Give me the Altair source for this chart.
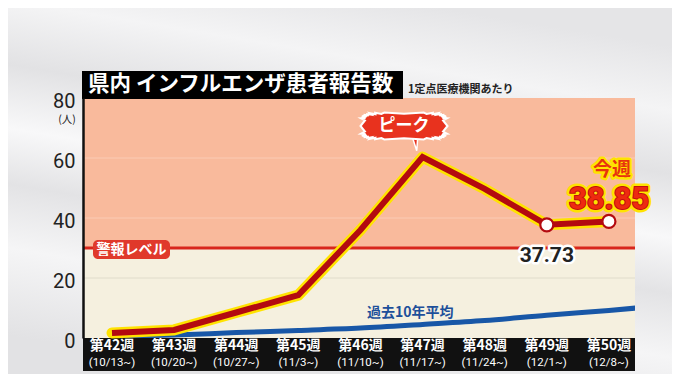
import math
import altair as alt
import pandas as pd

# ---------------- data ----------------
weeks = ["第42週", "第43週", "第44週", "第45週", "第46週", "第47週", "第48週", "第49週", "第50週"]
dates = ["(10/13~)", "(10/20~)", "(10/27~)", "(11/3~)", "(11/10~)", "(11/17~)", "(11/24~)", "(12/1~)", "(12/8~)"]
patients = [1.7, 2.7, 8.5, 14.3, 36.0, 60.3, 49.7, 37.73, 38.85]
avg10 = [0.5, 1.0, 1.8, 2.5, 3.3, 4.5, 5.8, 7.6, 9.2, 11.0]   # last value runs past the edge (clipped)
warning_level = 30
y_ticks = [0, 20, 40, 60, 80]
grid_vals = [20, 40, 60]
title_text = "県内 インフルエンザ患者報告数"
subtitle_text = "1定点医療機関あたり"

# ---------------- layout ----------------
W, H = 552, 240
JP = "Noto Sans CJK JP"
NUM = "Roboto"
xs = alt.Scale(domain=[-0.467, 8.42], nice=False, zero=False)
ys = alt.Scale(domain=[0, 80], nice=False)
YAX = alt.Axis(values=y_ticks, ticks=False, grid=False, domain=True, domainColor="#111111",
               domainWidth=2.5, labelFontSize=20, labelFont=NUM, labelColor="#222222",
               labelPadding=8, labelOffset=3, title=None, zindex=1)

df = pd.DataFrame({"i": list(range(len(weeks))), "week": weeks, "date": dates, "v": patients})
df_avg = pd.DataFrame({"i": list(range(len(avg10))), "v": avg10})
one = pd.DataFrame({"a": [0]})
zones = pd.DataFrame({"y0": [0, warning_level], "y1": [warning_level, 80],
                      "zone": ["below", "above"]})
grid = pd.DataFrame({"g": grid_vals})
warn = pd.DataFrame({"w": [warning_level]})

X = lambda: alt.X("i:Q", scale=xs, axis=None)
Y = lambda: alt.Y("v:Q", scale=ys, axis=YAX)

# background gradient
bg = alt.Chart(one).mark_rect(
    color=alt.LinearGradient(
        gradient="linear", x1=0.35, y1=1, x2=0.65, y2=0,
        stops=[
            alt.GradientStop(color="#e2e2e4", offset=0),
            alt.GradientStop(color="#f5f5f6", offset=0.22),
            alt.GradientStop(color="#e3e3e5", offset=0.38),
            alt.GradientStop(color="#f8f8f9", offset=0.52),
            alt.GradientStop(color="#e2e2e4", offset=0.68),
            alt.GradientStop(color="#f4f4f5", offset=0.84),
            alt.GradientStop(color="#e5e5e7", offset=1),
        ])
).encode(x=alt.value(-75), x2=alt.value(W + 37), y=alt.value(-90), y2=alt.value(H + 36))

zone_layer = alt.Chart(zones).mark_rect().encode(
    x=alt.value(0), x2=alt.value(W),
    y=alt.Y("y0:Q", scale=ys, axis=YAX),
    y2="y1:Q",
    color=alt.Color("zone:N", scale=alt.Scale(domain=["below", "above"],
                                              range=["#f5f0df", "#f9ba9c"]), legend=None),
)

grid_layer = alt.Chart(grid).mark_rule(strokeWidth=1).encode(
    x=alt.value(0), x2=alt.value(W),
    y=alt.Y("g:Q", scale=ys, axis=YAX),
    color=alt.condition(alt.datum.g < warning_level, alt.value("#e0dccb"), alt.value("#fbcbb4")),
)

band = alt.Chart(one).mark_rect(color="#111111").encode(
    x=alt.value(0), x2=alt.value(W), y=alt.value(H), y2=alt.value(H + 33))

week_lbl = alt.Chart(df).mark_text(font=JP, fontSize=14, fontWeight="bold", color="white",
                                   baseline="middle").encode(
    x=X(), y=alt.value(H + 8), text="week:N")
date_lbl = alt.Chart(df).mark_text(font=NUM, fontSize=11.5, color="white", baseline="middle").encode(
    x=X(), y=alt.value(H + 25), text="date:N")

blue = alt.Chart(df_avg).mark_line(color="#1857a7", strokeWidth=5, clip=True,
                                   interpolate="monotone").encode(x=X(), y=Y())

warn_rule = alt.Chart(warn).mark_rule(color="#d8261c", strokeWidth=3).encode(
    x=alt.value(0), x2=alt.value(W), y=alt.Y("w:Q", scale=ys, axis=YAX))
warn_box = alt.Chart(one).mark_rect(color="#e0392b", cornerRadius=5).encode(
    x=alt.value(10), x2=alt.value(87), y=alt.value(142), y2=alt.value(161))
warn_txt = alt.Chart(one).mark_text(text="警報レベル", font=JP, fontSize=14, fontWeight="bold",
                                    color="white", baseline="middle").encode(
    x=alt.value(48.5), y=alt.value(151.5))

red_under = alt.Chart(df).mark_line(color="#ffe300", strokeWidth=11, strokeJoin="round",
                                    strokeCap="round").encode(x=X(), y=Y())
red_line = alt.Chart(df).mark_line(color="#b30a10", strokeWidth=6, strokeJoin="miter").encode(
    x=X(), y=Y())
dots = alt.Chart(df).transform_filter(alt.datum.i >= 7).mark_point(
    filled=True, fill="white", stroke="#b30a10", strokeWidth=2.2, size=170, opacity=1
).encode(x=X(), y=Y())

# value labels
v49 = pd.DataFrame({"i": [7], "t": [f"{patients[7]:.2f}"]})
lbl49_halo = alt.Chart(v49).mark_text(font=NUM, fontSize=21, fontWeight="bold", color="white",
                                      stroke="white", strokeWidth=5, strokeJoin="round",
                                      baseline="middle").encode(
    x=X(), y=alt.value(158), text="t:N")
lbl49 = alt.Chart(v49).mark_text(font=NUM, fontSize=21, fontWeight="bold", color="#222222",
                                 baseline="middle").encode(x=X(), y=alt.value(158), text="t:N")

v50 = pd.DataFrame({"i": [8], "t": [f"{patients[8]:.2f}"]})
kon_halo = alt.Chart(one).mark_text(text="今週", font=JP, fontSize=19, fontWeight="bold",
                                    color="#ffe300", stroke="#ffe300", strokeWidth=5,
                                    strokeJoin="round", baseline="middle").encode(
    x=alt.value(529), y=alt.value(72))
kon = alt.Chart(one).mark_text(text="今週", font=JP, fontSize=19, fontWeight="bold",
                               color="#e8330e", baseline="middle").encode(
    x=alt.value(529), y=alt.value(72))
big_halo = alt.Chart(v50).mark_text(font=NUM, fontSize=31, fontWeight="bold", color="#ffe300",
                                    stroke="#ffe300", strokeWidth=7, strokeJoin="round",
                                    baseline="middle").encode(
    x=alt.value(526), y=alt.value(102), text="t:N")
big_edge = alt.Chart(v50).mark_text(font=NUM, fontSize=31, fontWeight="bold", color="#c0100c",
                                    stroke="#c0100c", strokeWidth=2, baseline="middle").encode(
    x=alt.value(526), y=alt.value(102), text="t:N")
big = alt.Chart(v50).mark_text(font=NUM, fontSize=31, fontWeight="bold", color="#ee2a10",
                               baseline="middle").encode(
    x=alt.value(526), y=alt.value(102), text="t:N")

# peak burst
pts = []
N = 30
for k in range(2 * N):
    a = k * math.pi / N
    r = 1.0 if k % 2 == 0 else 0.9
    c, s = math.cos(a), math.sin(a)
    px = r * math.copysign(abs(c) ** 0.35, c)
    py = r * 0.31 * math.copysign(abs(s) ** 0.35, s)
    pts.append(f"{px:.3f},{py:.3f}")
burst_path = "M" + " L".join(pts) + " Z"
pointer = alt.Chart(one).mark_point(shape="M -0.45,-1 L 0.35,-1 L 0.2,1 Z", filled=True,
                                    fill="#e8321e", opacity=1, size=300, stroke="white",
                                    strokeWidth=1.5).encode(
    x=alt.value(332), y=alt.value(44))
burst = alt.Chart(one).mark_point(shape=burst_path, filled=True, fill="#e8321e", opacity=1,
                                  size=7569, stroke="white", strokeWidth=2).encode(
    x=alt.value(321), y=alt.value(28))
peak_txt = alt.Chart(one).mark_text(text="ピーク", font=JP, fontSize=17, fontWeight="bold",
                                    color="white", baseline="middle").encode(
    x=alt.value(321), y=alt.value(28))

avg_txt = alt.Chart(one).mark_text(text="過去10年平均", font=JP, fontSize=14, fontWeight="bold",
                                   color="#1d4f9a", baseline="middle", align="left").encode(
    x=alt.value(284), y=alt.value(215))

title_box = alt.Chart(one).mark_rect(color="#000000").encode(
    x=alt.value(-1), x2=alt.value(320), y=alt.value(-27), y2=alt.value(1))
title = alt.Chart(one).mark_text(text=title_text, font=JP, fontSize=21.5, fontWeight="bold",
                                 color="white", align="left", baseline="middle").encode(
    x=alt.value(5), y=alt.value(-13))
subtitle = alt.Chart(one).mark_text(text=subtitle_text, font=JP, fontSize=11, fontWeight="bold",
                                    color="#222222", align="left", baseline="middle").encode(
    x=alt.value(325), y=alt.value(-8))
unit = alt.Chart(one).mark_text(text="(人)", font=JP, fontSize=10.5, color="#222222",
                                baseline="middle").encode(x=alt.value(-16), y=alt.value(22))

chart = alt.layer(
    bg, zone_layer, grid_layer, band, week_lbl, date_lbl, blue, warn_rule, warn_box, warn_txt,
    red_under, red_line, dots, lbl49_halo, lbl49, kon_halo, kon, big_halo, big_edge, big,
    pointer, burst, peak_txt, avg_txt, title_box, title, subtitle, unit
).properties(
    width=W, height=H,
    padding={"left": 75, "top": 90, "right": 37, "bottom": 36},
    autosize=alt.AutoSizeParams(type="none"),
    background="#ececee",
).configure_view(stroke=None)

chart.save("out.html", embed_options={"renderer": "svg", "actions": False})
